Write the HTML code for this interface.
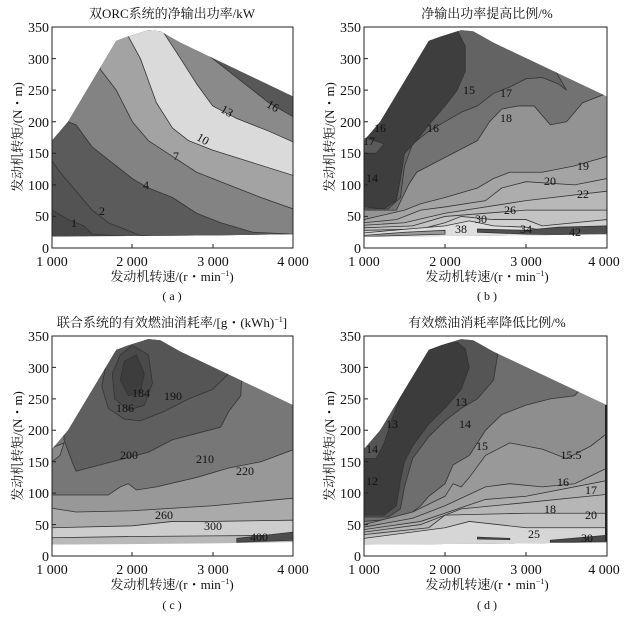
<!DOCTYPE html>
<html><head><meta charset="utf-8"><style>
html,body{margin:0;padding:0;background:#fff;}
svg text{font-family:"Liberation Serif","Noto Serif CJK SC",serif;fill:#111;}
</style></head><body>
<svg width="631" height="616" viewBox="0 0 631 616" xmlns="http://www.w3.org/2000/svg">
<defs>
<clipPath id="env" clipPathUnits="userSpaceOnUse">
<polygon points="1000,18 1000,170 1200,200 1800,328 1950,335 2200,345 2350,343 2600,325 4000,240 4000,22 3000,20"/>
</clipPath>
</defs>

<!-- ============ Panel A ============ -->
<svg x="52" y="27" width="241" height="221" viewBox="1000 -350 3000 350" preserveAspectRatio="none">
<g transform="scale(1,-1)"><g clip-path="url(#env)" stroke="#333" stroke-width="0.8" stroke-linejoin="round">
<rect x="900" y="0" width="3200" height="400" fill="#484848" stroke="none"/>
<polygon fill="#535353" points="1000,60 1200,45 1400,35 1500,22 4100,0 4100,400 900,400 900,60" vector-effect="non-scaling-stroke"/>
<polygon fill="#5b5b5b" points="1000,138 1100,120 1300,90 1500,60 1700,40 1900,30 2100,20 4100,0 4100,400 900,400 900,138" vector-effect="non-scaling-stroke"/>
<polygon fill="#838383" points="1200,200 1300,195 1500,160 1800,130 2000,110 2200,95 2500,80 2800,55 3100,40 3500,25 4000,22 4100,22 4100,400 1200,400" vector-effect="non-scaling-stroke"/>
<polygon fill="#a3a3a3" points="1600,283 1800,250 2000,200 2200,170 2500,145 2800,120 3200,100 3600,80 4000,62 4100,62 4100,400 1600,400" vector-effect="non-scaling-stroke"/>
<polygon fill="#dadada" points="1950,335 2100,300 2300,230 2500,190 2700,170 3000,155 3500,135 4000,115 4100,115 4100,400 1950,400" vector-effect="non-scaling-stroke"/>
<polygon fill="#8a8a8a" points="2380,343 2600,300 2800,260 3000,225 3300,205 3700,185 4000,168 4100,168 4100,400 2380,400" vector-effect="non-scaling-stroke"/>
<polygon fill="#575757" points="2970,303 3300,270 3700,230 4000,208 4100,208 4100,400 2970,400" vector-effect="non-scaling-stroke"/>
</g></g></svg>
<rect x="52" y="27" width="241" height="221" fill="none" stroke="#222" stroke-width="1"/>

<!-- ============ Panel B ============ -->
<svg x="364" y="27" width="243" height="221" viewBox="1000 -350 3000 350" preserveAspectRatio="none">
<g transform="scale(1,-1)"><g clip-path="url(#env)" stroke="#333" stroke-width="0.8">
<rect x="900" y="0" width="3200" height="400" fill="#939393" stroke="none"/>
<polygon fill="#727272" points="1000,60 1400,60 1550,100 1650,120 1800,130 2100,150 2400,170 2550,200 2700,220 2900,225 3100,225 3300,195 3500,200 3700,230 4000,245 4100,400 900,400 900,60" vector-effect="non-scaling-stroke"/>
<polygon fill="#636363" points="1000,62 1300,62 1450,80 1500,130 1600,165 1800,185 2000,200 2200,215 2400,225 2600,245 2800,255 3000,268 3200,270 3400,260 3500,250 3300,295 2800,330 2600,400 900,400 900,62" vector-effect="non-scaling-stroke"/>
<polygon fill="#3e3e3e" points="1000,65 1250,62 1400,75 1450,110 1500,150 1650,170 1800,195 2000,225 2150,250 2250,280 2250,320 2150,345 2150,400 900,400 900,65" vector-effect="non-scaling-stroke"/>
<polygon fill="#5a5a5a" points="900,150 1150,150 1250,165 1000,175 900,175" vector-effect="non-scaling-stroke"/>
<polygon fill="#a4a4a4" points="1000,45 1500,60 1700,70 2000,80 2400,95 2600,110 2800,120 3200,120 3600,130 4000,145 4100,145 4100,0 900,0 900,45" vector-effect="non-scaling-stroke"/>
<polygon fill="#adadad" points="1000,40 1400,45 1700,60 2000,65 2500,75 2700,95 3000,105 3600,100 4000,110 4100,110 4100,0 900,0 900,40" vector-effect="non-scaling-stroke"/>
<polygon fill="#b8b8b8" points="1000,36 1500,40 2000,55 3000,75 4000,90 4100,90 4100,0 900,0" vector-effect="non-scaling-stroke"/>
<polygon fill="#c3c3c3" points="1000,32 1600,35 2000,50 3000,60 4000,60 4100,60 4100,0 900,0" vector-effect="non-scaling-stroke"/>
<polygon fill="#d0d0d0" points="1000,28 1700,30 2000,40 2200,50 2600,45 3000,45 3200,35 4000,45 4100,45 4100,0 900,0" vector-effect="non-scaling-stroke"/>
<polygon fill="#dedede" points="1000,24 2000,35 2300,43 2600,35 3000,33 3300,25 4000,32 4100,32 4100,0 900,0" vector-effect="non-scaling-stroke"/>
<polygon fill="#9a9a9a" points="1000,20 1500,25 2000,28 2000,22 1000,18" vector-effect="non-scaling-stroke"/>
<polygon fill="#505050" points="2400,30 3000,28 3400,33 4000,35 4000,20 3000,22 2400,25" vector-effect="non-scaling-stroke"/>
</g></g></svg>
<rect x="364" y="27" width="243" height="221" fill="none" stroke="#222" stroke-width="1"/>

<!-- ============ Panel C ============ -->
<svg x="52" y="336" width="241" height="220" viewBox="1000 -350 3000 350" preserveAspectRatio="none">
<g transform="scale(1,-1)"><g clip-path="url(#env)" stroke="#333" stroke-width="0.8">
<rect x="900" y="0" width="3200" height="400" fill="#b9b9b9" stroke="none"/>
<polygon fill="#cdcdcd" points="1000,29 2000,31 3000,32 4000,33 4100,33 4100,400 900,400 900,29" vector-effect="non-scaling-stroke"/>
<polygon fill="#aaaaaa" points="1000,45 2000,48 2500,55 3000,55 4000,57 4100,57 4100,400 900,400 900,45" vector-effect="non-scaling-stroke"/>
<polygon fill="#989898" points="1000,76 1300,70 2000,72 3000,80 4000,92 4100,92 4100,400 900,400 900,76" vector-effect="non-scaling-stroke"/>
<polygon fill="#777777" points="1000,97 1700,97 1850,110 1950,115 2050,105 2300,110 2800,125 3200,140 3600,150 4000,169 4100,169 4100,400 900,400 900,97" vector-effect="non-scaling-stroke"/>
<polygon fill="#5f5f5f" points="1150,185 1250,150 1300,135 1600,145 1900,155 2200,165 2500,185 2800,195 3100,205 3200,230 3350,255 3400,400 1150,400" vector-effect="non-scaling-stroke"/>
<polygon fill="#555555" points="1680,310 1620,270 1700,235 1900,218 2100,215 2400,230 2700,250 3000,265 3200,290 3200,400 1680,400" vector-effect="non-scaling-stroke"/>
<polygon fill="#4a4a4a" points="1850,320 1750,290 1780,250 1950,232 2150,240 2250,275 2200,320 2000,335" vector-effect="non-scaling-stroke"/>
<polygon fill="#3d3d3d" points="1900,310 1850,280 1950,255 2100,260 2150,290 2050,320" vector-effect="non-scaling-stroke"/>
<polygon fill="#8a8a8a" points="1000,150 1100,160 1150,180 1000,172" vector-effect="non-scaling-stroke"/>
<polygon fill="#4d4d4d" points="3300,28 4000,38 4000,25 3300,22" vector-effect="non-scaling-stroke"/>
</g></g></svg>
<rect x="52" y="336" width="241" height="220" fill="none" stroke="#222" stroke-width="1"/>

<!-- ============ Panel D ============ -->
<svg x="364" y="336" width="243" height="220" viewBox="1000 -350 3000 350" preserveAspectRatio="none">
<g transform="scale(1,-1)"><g clip-path="url(#env)" stroke="#333" stroke-width="0.8">
<rect x="900" y="0" width="3200" height="400" fill="#8e8e8e" stroke="none"/>
<polygon fill="#6e6e6e" points="1000,55 1500,60 1700,80 1800,95 2000,115 2100,145 2300,160 2400,180 2500,200 2700,225 3000,240 3300,250 3600,255 3650,262 3650,400 900,400 900,55" vector-effect="non-scaling-stroke"/>
<polygon fill="#555555" points="1000,62 1300,62 1450,75 1500,110 1600,155 1800,190 2000,215 2200,235 2400,250 2600,280 2650,320 2600,338 2600,400 900,400 900,62" vector-effect="non-scaling-stroke"/>
<polygon fill="#3c3c3c" points="1000,65 1250,65 1400,80 1450,120 1500,150 1600,175 1800,210 2000,235 2200,265 2300,300 2250,330 2150,340 1850,335 1700,320 1500,270 1350,220 1250,180 1150,155 1000,155 900,155 900,65" vector-effect="non-scaling-stroke"/>
<polygon fill="#999999" points="1000,50 1600,70 2000,95 2100,115 2200,110 2300,125 2500,160 2800,180 3200,170 3500,155 3800,175 4000,195 4100,195 4100,0 900,0 900,50" vector-effect="non-scaling-stroke"/>
<polygon fill="#a3a3a3" points="1000,46 1600,60 2000,80 2500,110 2800,115 3200,110 3600,115 4000,140 4100,140 4100,0 900,0" vector-effect="non-scaling-stroke"/>
<polygon fill="#adadad" points="1000,42 1700,55 2500,90 3000,95 4000,120 4100,120 4100,0 900,0" vector-effect="non-scaling-stroke"/>
<polygon fill="#b6b6b6" points="1000,38 1700,50 2200,75 3000,85 4000,98 4100,98 4100,0 900,0" vector-effect="non-scaling-stroke"/>
<polygon fill="#c2c2c2" points="1000,34 1800,45 2000,65 3000,68 4000,68 4100,68 4100,0 900,0" vector-effect="non-scaling-stroke"/>
<polygon fill="#d6d6d6" points="1000,28 2000,45 2300,55 3000,45 4000,45 4100,45 4100,0 900,0" vector-effect="non-scaling-stroke"/>
<polygon fill="#4a4a4a" points="3300,25 4000,33 4000,22 3300,22" vector-effect="non-scaling-stroke"/>
<polygon fill="#4a4a4a" points="2400,30 2800,28 2800,26 2400,27" vector-effect="non-scaling-stroke"/>
</g></g></svg>
<rect x="364" y="336" width="243" height="220" fill="none" stroke="#222" stroke-width="1"/>
<line x1="606" y1="405" x2="606" y2="541" stroke="#222" stroke-width="2"/>

<!-- ticks -->
<g stroke="#222" stroke-width="1">
<path d="M52,248v-4M132,248v-4M213,248v-4M293,248v-4 M52,248h4M52,216.4h4M52,184.9h4M52,153.3h4M52,121.7h4M52,90.1h4M52,58.6h4M52,27h4"/>
<path d="M364,248v-4M445,248v-4M526,248v-4M607,248v-4 M364,248h4M364,216.4h4M364,184.9h4M364,153.3h4M364,121.7h4M364,90.1h4M364,58.6h4M364,27h4"/>
<path d="M52,556v-4M132,556v-4M213,556v-4M293,556v-4 M52,556h4M52,524.6h4M52,493.1h4M52,461.7h4M52,430.3h4M52,398.9h4M52,367.4h4M52,336h4"/>
<path d="M364,556v-4M445,556v-4M526,556v-4M607,556v-4 M364,556h4M364,524.6h4M364,493.1h4M364,461.7h4M364,430.3h4M364,398.9h4M364,367.4h4M364,336h4"/>
</g>

<!-- tick labels -->
<g font-size="14">
<g text-anchor="end">
<text x="49" y="253">0</text><text x="49" y="221">50</text><text x="49" y="190">100</text><text x="49" y="158">150</text><text x="49" y="127">200</text><text x="49" y="95">250</text><text x="49" y="64">300</text><text x="49" y="32">350</text>
<text x="361" y="253">0</text><text x="361" y="221">50</text><text x="361" y="190">100</text><text x="361" y="158">150</text><text x="361" y="127">200</text><text x="361" y="95">250</text><text x="361" y="64">300</text><text x="361" y="32">350</text>
<text x="49" y="561">0</text><text x="49" y="530">50</text><text x="49" y="498">100</text><text x="49" y="467">150</text><text x="49" y="435">200</text><text x="49" y="404">250</text><text x="49" y="373">300</text><text x="49" y="341">350</text>
<text x="361" y="561">0</text><text x="361" y="530">50</text><text x="361" y="498">100</text><text x="361" y="467">150</text><text x="361" y="435">200</text><text x="361" y="404">250</text><text x="361" y="373">300</text><text x="361" y="341">350</text>
</g>
<g text-anchor="middle">
<text x="52" y="266">1 000</text><text x="132" y="266">2 000</text><text x="213" y="266">3 000</text><text x="293" y="266">4 000</text>
<text x="364" y="266">1 000</text><text x="445" y="266">2 000</text><text x="526" y="266">3 000</text><text x="604" y="266">4 000</text>
<text x="52" y="574">1 000</text><text x="132" y="574">2 000</text><text x="213" y="574">3 000</text><text x="293" y="574">4 000</text>
<text x="364" y="574">1 000</text><text x="445" y="574">2 000</text><text x="526" y="574">3 000</text><text x="604" y="574">4 000</text>
</g>
</g>

<!-- titles & axis labels -->
<g font-size="13" text-anchor="middle">
<text x="172" y="18">双ORC系统的净输出功率/kW</text>
<text x="487" y="18">净输出功率提高比例/%</text>
<text x="172" y="327">联合系统的有效燃油消耗率/[g・(kWh)<tspan font-size="8" dy="-5">−1</tspan><tspan dy="5">]</tspan></text>
<text x="487" y="327">有效燃油消耗率降低比例/%</text>
<text x="172" y="281">发动机转速/(r・min<tspan font-size="8" dy="-5">−1</tspan><tspan dy="5">)</tspan></text>
<text x="487" y="281">发动机转速/(r・min<tspan font-size="8" dy="-5">−1</tspan><tspan dy="5">)</tspan></text>
<text x="172" y="589">发动机转速/(r・min<tspan font-size="8" dy="-5">−1</tspan><tspan dy="5">)</tspan></text>
<text x="487" y="589">发动机转速/(r・min<tspan font-size="8" dy="-5">−1</tspan><tspan dy="5">)</tspan></text>
<text x="172" y="300" font-size="12">( a )</text>
<text x="487" y="300" font-size="12">( b )</text>
<text x="172" y="609" font-size="12">( c )</text>
<text x="487" y="609" font-size="12">( d )</text>
<text transform="translate(22,137) rotate(-90)">发动机转矩/(N・m)</text>
<text transform="translate(334,137) rotate(-90)">发动机转矩/(N・m)</text>
<text transform="translate(22,446) rotate(-90)">发动机转矩/(N・m)</text>
<text transform="translate(334,446) rotate(-90)">发动机转矩/(N・m)</text>
</g>

<!-- contour labels -->
<g font-size="12" text-anchor="middle" fill="#111">
<text x="74" y="227">1</text><text x="102" y="215">2</text><text x="146" y="189">4</text><text x="176" y="160">7</text>
<text x="203" y="143" transform="rotate(30 203 139)">10</text><text x="227" y="115" transform="rotate(30 227 111)">13</text><text x="273" y="110" transform="rotate(30 273 106)">16</text>

<text x="372" y="182">14</text><text x="380" y="132">16</text><text x="369" y="145">17</text><text x="433" y="132">16</text><text x="469" y="94">15</text>
<text x="506" y="97">17</text><text x="506" y="122">18</text><text x="583" y="170">19</text><text x="550" y="185">20</text><text x="583" y="198">22</text>
<text x="510" y="214">26</text><text x="481" y="223">30</text><text x="461" y="233">38</text><text x="526" y="233">34</text><text x="575" y="236">42</text>

<text x="141" y="397">184</text><text x="125" y="412">186</text><text x="173" y="400">190</text><text x="129" y="459">200</text>
<text x="205" y="463">210</text><text x="245" y="475">220</text><text x="164" y="519">260</text><text x="213" y="530">300</text><text x="259" y="541">400</text>

<text x="372" y="485">12</text><text x="372" y="453">14</text><text x="392" y="428">13</text><text x="461" y="406">13</text>
<text x="465" y="428">14</text><text x="482" y="450">15</text><text x="571" y="459">15.5</text><text x="563" y="486">16</text>
<text x="591" y="494">17</text><text x="550" y="513">18</text><text x="591" y="519">20</text><text x="534" y="538">25</text><text x="587" y="542">30</text>
</g>
</svg>
</body></html>
